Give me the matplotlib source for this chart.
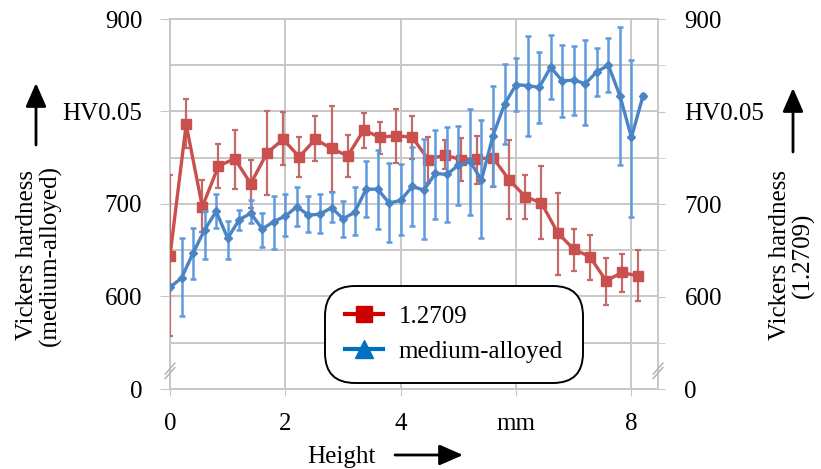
import numpy as np
import matplotlib
matplotlib.use("Agg")
import matplotlib.pyplot as plt
from matplotlib.lines import Line2D
from matplotlib.patches import FancyArrowPatch

plt.rcParams['font.family'] = ['Liberation Serif', 'DejaVu Serif']

# ---- data ----
red_x = [round(i * 0.28, 2) for i in range(30)]
red_y = [644, 786, 697, 741, 749, 722, 755, 770, 751, 770,
         760, 752, 780, 772, 774, 772, 748, 753, 748, 749,
         750, 726, 708, 701, 669, 651, 643, 617, 626, 622]
red_hi = [731, 813, 726, 765, 780, 748, 801, 799, 772, 795,
          806, 775, 798, 789, 803, 795, 772, 769, 771, 773,
          781, 769, 731, 741, 712, 673, 667, 642, 646, 650]
red_lo = [557, 761, 670, 717, 716, 696, 710, 742, 729, 746,
          713, 729, 761, 754, 744, 749, 723, 738, 725, 722,
          718, 684, 684, 662, 623, 628, 618, 591, 605, 595]

blue_x = [round(i * 0.2, 2) for i in range(42)]
blue_y = [610, 620, 647, 672, 692, 663, 683, 690, 673, 681,
          687, 697, 688, 689, 696, 684, 691, 716, 716, 701,
          704, 719, 715, 733, 732, 742, 746, 726, 774, 808,
          829, 828, 826, 848, 833, 834, 830, 843, 850, 817,
          772, 817]
blue_hi = [610, 663, 674, 692, 711, 682, 694, 704, 690, 709,
           711, 718, 709, 711, 713, 703, 718, 746, 758, 744,
           743, 762, 770, 780, 783, 784, 803, 791, 828, 851,
           858, 882, 864, 883, 872, 871, 877, 869, 879, 891,
           856, 819]
blue_lo = [610, 579, 619, 641, 674, 641, 672, 679, 653, 651,
           665, 676, 670, 669, 681, 664, 666, 686, 673, 659,
           666, 676, 662, 684, 680, 699, 688, 663, 719, 765,
           801, 774, 788, 814, 794, 796, 785, 817, 821, 742,
           686, 815]

y_ticks = [500, 600, 700, 800, 900]
y_ticklabels = ['0', '600', '700', 'HV0.05', '900']
x_ticks = [0, 2, 4, 6, 8]
x_ticklabels = ['0', '2', '4', 'mm', '8']

# ---- figure ----
W, H = 821, 469
fig = plt.figure(figsize=(W / 100, H / 100), dpi=100)
ax = fig.add_axes([170 / W, 1 - 389 / H, (658 - 170) / W, (389 - 19) / H])

red_c = '#c9504d'
red_e = '#c46a68'
blue_c = '#4a84c4'
blue_e = '#5f9ade'
grid_c = '#c8c8c8'
fs = 18

ry = np.array(red_y); by = np.array(blue_y)
ax.errorbar(red_x, red_y, yerr=[ry - np.array(red_lo), np.array(red_hi) - ry],
            fmt='none', ecolor=red_e, elinewidth=1.6, capsize=2.5, capthick=1.6, zorder=3)
ax.plot(red_x, red_y, color=red_c, lw=2.4, marker='s', ms=7, zorder=4)
ax.errorbar(blue_x, blue_y, yerr=[by - np.array(blue_lo), np.array(blue_hi) - by],
            fmt='none', ecolor=blue_e, elinewidth=1.8, capsize=2.5, capthick=1.8, zorder=5)
ax.plot(blue_x, blue_y, color=blue_c, lw=2.4, marker='D', ms=4, zorder=6)

ax.set_xlim(0, 8.46)
ax.set_ylim(500, 900)
ax.set_yticks(y_ticks)
ax.set_yticklabels(y_ticklabels, fontsize=fs)
ax.set_yticks([550, 650, 750, 850], minor=True)
ax.set_xticks(x_ticks)
ax.set_xticklabels(x_ticklabels, fontsize=fs)
ax.grid(True, which='both', color=grid_c, lw=1.4)
ax.set_axisbelow(True)
for s in ax.spines.values():
    s.set_color(grid_c)
    s.set_linewidth(1.4)
ax.tick_params(axis='y', which='major', length=7, color=grid_c, pad=13)
ax.tick_params(axis='y', which='minor', length=0)
ax.tick_params(axis='x', length=5, color=grid_c, pad=12)

ax2 = ax.twinx()
ax2.set_ylim(500, 900)
ax2.set_yticks(y_ticks)
ax2.set_yticklabels(y_ticklabels, fontsize=fs)
ax2.set_yticks([550, 650, 750, 850], minor=True)
ax2.tick_params(axis='y', which='both', length=5, color=grid_c, pad=14)
for s in ax2.spines.values():
    s.set_visible(False)

# break marks
for xa in (0.0, 1.0):
    for dy in (0.0, 0.012):
        ax.plot([xa - 0.01, xa + 0.01], [0.028 + dy, 0.058 + dy], transform=ax.transAxes,
                color='#b0b0b0', lw=1.0, clip_on=False, zorder=7)

# legend
handles = [Line2D([], [], color='#cc0000', lw=3, marker='s', ms=11),
           Line2D([], [], color='#0070c0', lw=3, marker='^', ms=13)]
leg = ax.legend(handles, ['1.2709', 'medium-alloyed'], loc='lower left',
                bbox_to_anchor=(0.318, 0.016), fontsize=fs, frameon=True,
                handlelength=1.5, handletextpad=0.65, borderpad=0.8, labelspacing=0.5,
                fancybox=True, borderaxespad=0)
fr = leg.get_frame()
fr.set_edgecolor('black')
fr.set_linewidth(1.4)
fr.set_alpha(1)
fr.set_boxstyle('round,pad=0.0,rounding_size=1.2')
leg.set_zorder(10)

# axis labels
fig.text(39 / W, 1 - 255 / H, 'Vickers hardness\n(medium-alloyed)', rotation=90,
         ha='center', va='center', fontsize=fs, linespacing=1.0, multialignment='center')
fig.text(792 / W, 1 - 255 / H, 'Vickers hardness\n(1.2709)', rotation=90,
         ha='center', va='center', fontsize=fs, linespacing=1.0, multialignment='center')
fig.text(341 / W, 1 - 457 / H, 'Height', ha='center', va='center', fontsize=fs)

arrow_kw = dict(arrowstyle='-|>,head_length=0.8,head_width=0.35', color='black', lw=2.0,
                shrinkA=0, shrinkB=0, mutation_scale=18)
fig.add_artist(FancyArrowPatch((36 / W, 1 - 145 / H), (36 / W, 1 - 83 / H),
               transform=fig.transFigure, **arrow_kw))
fig.add_artist(FancyArrowPatch((793 / W, 1 - 152 / H), (793 / W, 1 - 88 / H),
               transform=fig.transFigure, **arrow_kw))
fig.add_artist(FancyArrowPatch((395 / W, 1 - 455 / H), (463 / W, 1 - 455 / H),
               transform=fig.transFigure, **arrow_kw))

fig.savefig('out.png', dpi=100)
